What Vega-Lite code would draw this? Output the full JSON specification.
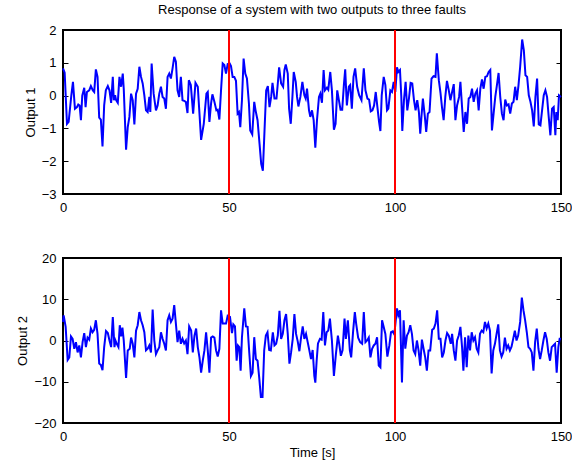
{
  "$schema": "https://vega.github.io/schema/vega-lite/v6.json",
  "padding": {"left": 15, "top": 3, "right": 0, "bottom": 4},
  "datasets": {
    "out1": [
      {"t":0,"v":0.83},{"t":0.5,"v":0.7},{"t":1.2,"v":-0.86},{"t":1.7,"v":-0.8},{"t":2.5,"v":0.0},{"t":3.0,"v":0.42},{"t":3.6,"v":-0.4},{"t":4.2,"v":-0.35},{"t":4.6,"v":-0.27},{"t":5.0,"v":-0.3},{"t":5.4,"v":-0.75},{"t":5.8,"v":0.0},{"t":6.4,"v":0.24},{"t":6.8,"v":-0.35},{"t":7.2,"v":0.11},{"t":7.9,"v":0.16},{"t":8.4,"v":0.29},{"t":9.0,"v":0.16},{"t":9.4,"v":0.11},{"t":9.9,"v":0.8},{"t":10.4,"v":0.57},{"t":10.9,"v":-0.67},{"t":11.4,"v":-0.73},{"t":11.9,"v":-1.55},{"t":12.4,"v":-0.3},{"t":12.9,"v":0.16},{"t":13.5,"v":0.29},{"t":14.0,"v":0.16},{"t":14.5,"v":-0.22},{"t":15.0,"v":0.57},{"t":15.3,"v":-0.14},{"t":15.7,"v":0.01},{"t":16.0,"v":-0.14},{"t":16.5,"v":-0.22},{"t":17.0,"v":0.57},{"t":17.5,"v":0.27},{"t":18.0,"v":0.67},{"t":18.3,"v":0.21},{"t":19.0,"v":-1.65},{"t":19.5,"v":-0.96},{"t":20.0,"v":-0.65},{"t":20.5,"v":0.06},{"t":21.0,"v":-0.14},{"t":21.5,"v":-0.88},{"t":22.0,"v":0.06},{"t":22.5,"v":0.21},{"t":23.0,"v":0.88},{"t":23.5,"v":0.57},{"t":24.0,"v":0.37},{"t":24.5,"v":0.01},{"t":25.0,"v":-0.45},{"t":25.5,"v":-0.5},{"t":26.0,"v":-0.04},{"t":26.3,"v":-0.5},{"t":26.7,"v":0.98},{"t":27.3,"v":0.06},{"t":28.0,"v":-0.45},{"t":28.5,"v":-0.3},{"t":29.0,"v":0.06},{"t":29.5,"v":0.27},{"t":30.0,"v":-0.04},{"t":30.5,"v":-0.09},{"t":31.0,"v":-0.4},{"t":31.5,"v":0.57},{"t":32.0,"v":0.67},{"t":32.5,"v":0.52},{"t":33.0,"v":0.83},{"t":33.5,"v":1.18},{"t":34.0,"v":1.03},{"t":34.5,"v":0.16},{"t":35.0,"v":-0.04},{"t":35.5,"v":0.57},{"t":36.0,"v":-0.14},{"t":36.5,"v":-0.16},{"t":37.0,"v":-0.19},{"t":37.5,"v":-0.53},{"t":37.9,"v":0.47},{"t":38.5,"v":0.32},{"t":39.2,"v":-0.55},{"t":39.9,"v":0.39},{"t":40.6,"v":0.27},{"t":41.6,"v":-1.35},{"t":42.4,"v":-0.86},{"t":43.2,"v":0.06},{"t":43.6,"v":0.11},{"t":44.1,"v":-0.8},{"t":44.6,"v":-0.24},{"t":45.0,"v":0.04},{"t":45.6,"v":-0.19},{"t":46.2,"v":-0.45},{"t":46.6,"v":-0.43},{"t":47.1,"v":-0.73},{"t":47.6,"v":0.16},{"t":48.1,"v":0.98},{"t":48.6,"v":0.93},{"t":49.1,"v":0.67},{"t":49.6,"v":0.96},{"t":50.2,"v":0.98},{"t":50.6,"v":0.9},{"t":51.1,"v":0.57},{"t":51.6,"v":0.57},{"t":52.1,"v":0.45},{"t":52.6,"v":-0.55},{"t":53.0,"v":-0.5},{"t":53.4,"v":-0.96},{"t":53.9,"v":-0.14},{"t":54.4,"v":1.13},{"t":54.9,"v":0.67},{"t":55.4,"v":0.52},{"t":56.0,"v":-0.24},{"t":56.4,"v":-1.06},{"t":57.0,"v":-1.18},{"t":57.6,"v":-0.19},{"t":58.0,"v":-0.45},{"t":58.6,"v":-0.75},{"t":59.2,"v":-1.47},{"t":59.7,"v":-2.08},{"t":60.2,"v":-2.29},{"t":60.7,"v":-1.06},{"t":61.2,"v":0.16},{"t":61.7,"v":0.29},{"t":62.2,"v":-0.35},{"t":62.7,"v":-0.04},{"t":63.1,"v":0.39},{"t":63.7,"v":-0.09},{"t":64.3,"v":-0.09},{"t":64.7,"v":0.37},{"t":65.1,"v":0.86},{"t":65.7,"v":0.37},{"t":66.3,"v":0.27},{"t":66.7,"v":0.78},{"t":67.1,"v":0.95},{"t":67.7,"v":0.67},{"t":68.1,"v":-0.4},{"t":68.6,"v":-0.86},{"t":69.1,"v":-0.04},{"t":69.5,"v":0.72},{"t":70.1,"v":0.42},{"t":70.5,"v":-0.04},{"t":70.9,"v":-0.33},{"t":71.5,"v":-0.04},{"t":72.1,"v":0.42},{"t":72.7,"v":0.01},{"t":73.1,"v":-0.09},{"t":73.5,"v":0.21},{"t":74.1,"v":-0.45},{"t":74.5,"v":-0.65},{"t":75.0,"v":-0.45},{"t":75.5,"v":-0.75},{"t":76.0,"v":-1.59},{"t":76.5,"v":-0.75},{"t":77.1,"v":-0.04},{"t":77.5,"v":0.06},{"t":78.0,"v":-0.22},{"t":78.5,"v":0.78},{"t":78.9,"v":0.16},{"t":79.5,"v":0.24},{"t":79.9,"v":0.18},{"t":80.5,"v":0.72},{"t":81.0,"v":0.16},{"t":81.6,"v":-1.04},{"t":82.1,"v":-0.86},{"t":82.6,"v":0.16},{"t":83.1,"v":-0.14},{"t":83.6,"v":-0.43},{"t":84.1,"v":-0.43},{"t":84.6,"v":0.32},{"t":85.0,"v":0.8},{"t":85.5,"v":-0.3},{"t":86.1,"v":0.27},{"t":86.5,"v":0.32},{"t":87.0,"v":-0.4},{"t":87.5,"v":0.57},{"t":88.0,"v":0.83},{"t":88.6,"v":0.27},{"t":89.2,"v":0.01},{"t":89.9,"v":-0.14},{"t":90.6,"v":0.83},{"t":91.1,"v":0.16},{"t":91.7,"v":-0.09},{"t":92.2,"v":-0.12},{"t":92.7,"v":-0.48},{"t":93.2,"v":-0.45},{"t":93.7,"v":-0.3},{"t":94.2,"v":0.11},{"t":94.7,"v":-0.35},{"t":95.2,"v":-0.8},{"t":95.6,"v":-1.08},{"t":96.0,"v":0.01},{"t":96.6,"v":0.57},{"t":97.1,"v":0.32},{"t":97.6,"v":-0.45},{"t":98.0,"v":-0.4},{"t":98.6,"v":0.16},{"t":99.1,"v":0.11},{"t":99.6,"v":0.42},{"t":100.1,"v":0.11},{"t":100.6,"v":0.86},{"t":101.0,"v":0.72},{"t":101.5,"v":0.78},{"t":101.9,"v":-0.04},{"t":102.2,"v":-1.08},{"t":102.7,"v":-0.14},{"t":103.2,"v":0.42},{"t":103.7,"v":-0.45},{"t":104.2,"v":-0.09},{"t":104.7,"v":0.39},{"t":105.2,"v":0.37},{"t":105.7,"v":-0.12},{"t":106.2,"v":-0.45},{"t":106.7,"v":-0.14},{"t":107.2,"v":-0.5},{"t":107.6,"v":-1.16},{"t":108.0,"v":-0.6},{"t":108.4,"v":-0.09},{"t":109.0,"v":-0.65},{"t":109.4,"v":-1.11},{"t":109.9,"v":-0.55},{"t":110.4,"v":-0.5},{"t":111.0,"v":0.52},{"t":111.6,"v":0.59},{"t":112.2,"v":0.57},{"t":112.6,"v":1.29},{"t":113.2,"v":0.47},{"t":113.7,"v":0.08},{"t":114.15,"v":-0.35},{"t":114.65,"v":-0.75},{"t":115.15,"v":-0.04},{"t":115.65,"v":0.45},{"t":116.2,"v":0.16},{"t":116.7,"v":-0.14},{"t":117.2,"v":0.11},{"t":117.7,"v":0.35},{"t":118.2,"v":-0.75},{"t":118.7,"v":-0.3},{"t":119.3,"v":-0.04},{"t":119.7,"v":0.42},{"t":120.2,"v":-0.35},{"t":120.7,"v":-1.11},{"t":121.2,"v":-0.5},{"t":121.7,"v":-0.86},{"t":122.2,"v":-0.09},{"t":122.7,"v":-0.04},{"t":123.2,"v":0.21},{"t":123.7,"v":-0.19},{"t":124.2,"v":0.06},{"t":124.7,"v":0.16},{"t":125.2,"v":-0.45},{"t":125.7,"v":0.21},{"t":126.2,"v":0.49},{"t":126.7,"v":0.21},{"t":127.2,"v":0.57},{"t":127.7,"v":0.59},{"t":128.2,"v":0.72},{"t":128.7,"v":0.78},{"t":129.2,"v":-1.06},{"t":129.7,"v":-0.55},{"t":130.2,"v":-0.04},{"t":130.7,"v":0.32},{"t":131.2,"v":0.69},{"t":131.7,"v":-0.04},{"t":132.2,"v":-0.55},{"t":132.7,"v":-0.75},{"t":133.2,"v":-0.12},{"t":133.7,"v":-0.3},{"t":134.2,"v":-0.27},{"t":134.7,"v":-0.55},{"t":135.2,"v":-0.24},{"t":135.7,"v":-0.19},{"t":136.2,"v":0.27},{"t":136.7,"v":-0.14},{"t":137.2,"v":0.32},{"t":137.7,"v":0.88},{"t":138.3,"v":1.71},{"t":138.8,"v":1.39},{"t":139.3,"v":0.62},{"t":139.8,"v":0.57},{"t":140.3,"v":0.01},{"t":140.8,"v":-0.19},{"t":141.3,"v":-0.45},{"t":141.8,"v":-0.94},{"t":142.3,"v":-0.04},{"t":142.8,"v":0.52},{"t":143.3,"v":-0.88},{"t":143.8,"v":-0.91},{"t":144.3,"v":-0.45},{"t":144.8,"v":0.01},{"t":145.3,"v":0.16},{"t":145.8,"v":-0.04},{"t":146.3,"v":-0.65},{"t":146.8,"v":-1.21},{"t":147.3,"v":-0.4},{"t":147.8,"v":-0.35},{"t":148.3,"v":-1.21},{"t":148.6,"v":-0.5},{"t":149.0,"v":-0.75},{"t":149.4,"v":0.01},{"t":150,"v":-0.04}
    ],
    "out2": [
      {"t":0,"v":4.5},{"t":0.2,"v":6.1},{"t":0.8,"v":3.3},{"t":1.4,"v":-4.7},{"t":1.9,"v":-4.1},{"t":2.4,"v":1.0},{"t":2.9,"v":0.4},{"t":3.4,"v":-2.0},{"t":3.9,"v":-0.4},{"t":4.4,"v":-2.9},{"t":4.9,"v":-1.2},{"t":5.4,"v":-4.1},{"t":5.9,"v":-0.4},{"t":6.4,"v":1.8},{"t":6.9,"v":-1.6},{"t":7.4,"v":0.7},{"t":7.9,"v":0.2},{"t":8.4,"v":2.9},{"t":8.9,"v":2.0},{"t":9.4,"v":2.6},{"t":9.9,"v":4.9},{"t":10.4,"v":1.6},{"t":10.9,"v":-5.6},{"t":11.4,"v":-5.9},{"t":11.9,"v":-7.2},{"t":12.4,"v":-1.6},{"t":12.95,"v":2.3},{"t":13.5,"v":1.8},{"t":14.0,"v":0},{"t":14.5,"v":-1.6},{"t":15.0,"v":5.7},{"t":15.5,"v":-1.6},{"t":15.8,"v":0},{"t":16.2,"v":-0.8},{"t":16.7,"v":-1.6},{"t":17.1,"v":3.7},{"t":17.5,"v":1.0},{"t":17.9,"v":3.1},{"t":18.3,"v":0},{"t":19.0,"v":-9.1},{"t":19.5,"v":-2.4},{"t":20.1,"v":-2.0},{"t":20.5,"v":0.7},{"t":21.0,"v":-0.8},{"t":21.5,"v":-4.1},{"t":22.0,"v":2.4},{"t":22.5,"v":3.7},{"t":23.0,"v":6.9},{"t":23.5,"v":4.9},{"t":24.0,"v":3.7},{"t":24.5,"v":2.0},{"t":25.0,"v":-2.4},{"t":25.5,"v":-2.0},{"t":26.0,"v":-1.2},{"t":26.5,"v":-2.9},{"t":27.0,"v":7.5},{"t":27.5,"v":0},{"t":28.0,"v":-3.3},{"t":28.5,"v":-2.4},{"t":29.0,"v":-1.6},{"t":29.5,"v":2.0},{"t":30.0,"v":0.4},{"t":30.5,"v":-0.8},{"t":31.0,"v":-2.4},{"t":31.5,"v":4.9},{"t":32.0,"v":6.1},{"t":32.5,"v":4.5},{"t":33.0,"v":5.3},{"t":33.5,"v":8.6},{"t":34.0,"v":4.1},{"t":34.5,"v":-0.4},{"t":35.0,"v":2.4},{"t":35.5,"v":-0.8},{"t":36.0,"v":0.4},{"t":36.5,"v":-0.7},{"t":37.0,"v":0},{"t":37.5,"v":-3.3},{"t":38.0,"v":3.4},{"t":38.6,"v":2.4},{"t":39.1,"v":-2.9},{"t":39.6,"v":1.2},{"t":40.1,"v":2.9},{"t":40.6,"v":-1.6},{"t":41.1,"v":-4.1},{"t":41.6,"v":-7.8},{"t":42.1,"v":-4.9},{"t":42.6,"v":-2.4},{"t":43.1,"v":2.0},{"t":43.6,"v":-2.4},{"t":44.1,"v":-7.8},{"t":44.6,"v":0.7},{"t":45.1,"v":1.0},{"t":45.6,"v":0.7},{"t":46.1,"v":-2.4},{"t":46.6,"v":-3.9},{"t":47.1,"v":-2.0},{"t":47.6,"v":7.3},{"t":48.1,"v":4.1},{"t":48.6,"v":4.1},{"t":49.1,"v":4.1},{"t":49.6,"v":6.0},{"t":50.3,"v":5.7},{"t":50.9,"v":1.8},{"t":51.3,"v":3.9},{"t":51.8,"v":3.4},{"t":52.3,"v":-4.9},{"t":52.7,"v":-1.2},{"t":53.1,"v":-1.6},{"t":53.5,"v":-7.3},{"t":53.9,"v":0.8},{"t":54.6,"v":7.8},{"t":55.1,"v":3.4},{"t":55.6,"v":3.3},{"t":56.1,"v":-2.9},{"t":56.6,"v":-8.6},{"t":57.1,"v":-7.8},{"t":57.6,"v":0.8},{"t":58.1,"v":-4.5},{"t":58.6,"v":-4.9},{"t":59.1,"v":-9.0},{"t":59.6,"v":-13.7},{"t":60.1,"v":-13.7},{"t":60.6,"v":-2.4},{"t":61.1,"v":1.2},{"t":61.6,"v":2.0},{"t":62.1,"v":-2.3},{"t":62.6,"v":-2.4},{"t":63.2,"v":2.0},{"t":63.7,"v":-1.2},{"t":64.2,"v":-0.8},{"t":64.7,"v":1.2},{"t":65.2,"v":7.2},{"t":65.7,"v":0.4},{"t":66.2,"v":1.6},{"t":66.7,"v":4.9},{"t":67.2,"v":6.4},{"t":67.7,"v":1.6},{"t":68.2,"v":-5.6},{"t":68.7,"v":-2.9},{"t":69.2,"v":0.4},{"t":69.7,"v":6.4},{"t":70.2,"v":1.6},{"t":70.7,"v":-0.2},{"t":71.2,"v":-2.6},{"t":71.7,"v":0.7},{"t":72.2,"v":3.4},{"t":72.7,"v":0.4},{"t":73.2,"v":1.6},{"t":73.7,"v":-0.4},{"t":74.2,"v":-2.4},{"t":74.7,"v":-4.5},{"t":75.2,"v":-2.3},{"t":75.7,"v":-8.6},{"t":76.0,"v":-10.2},{"t":76.4,"v":-4.9},{"t":76.8,"v":-0.7},{"t":77.4,"v":0.4},{"t":77.9,"v":0.2},{"t":78.4,"v":6.9},{"t":78.9,"v":-1.2},{"t":79.4,"v":2.0},{"t":79.9,"v":2.4},{"t":80.4,"v":5.3},{"t":81.0,"v":0},{"t":81.6,"v":-8.6},{"t":82.2,"v":-3.3},{"t":82.8,"v":1.2},{"t":83.2,"v":-0.8},{"t":83.7,"v":-3.7},{"t":84.2,"v":-2.4},{"t":84.8,"v":5.3},{"t":85.2,"v":0.4},{"t":85.8,"v":4.9},{"t":86.4,"v":-2.4},{"t":86.8,"v":-4.1},{"t":87.4,"v":2.4},{"t":87.9,"v":6.9},{"t":88.3,"v":4.1},{"t":88.9,"v":0.7},{"t":89.5,"v":-0.4},{"t":90.1,"v":-0.8},{"t":90.6,"v":6.9},{"t":91.1,"v":-0.4},{"t":91.6,"v":0},{"t":92.1,"v":0.7},{"t":92.6,"v":-4.1},{"t":93.1,"v":-2.0},{"t":93.6,"v":-1.2},{"t":94.1,"v":-0.8},{"t":94.6,"v":0.8},{"t":95.1,"v":-6.1},{"t":95.6,"v":-6.5},{"t":96.1,"v":4.9},{"t":96.6,"v":3.3},{"t":97.1,"v":1.6},{"t":97.7,"v":-3.9},{"t":98.3,"v":-1.2},{"t":98.8,"v":2.0},{"t":99.3,"v":2.2},{"t":99.8,"v":1.5},{"t":100.6,"v":7.8},{"t":101.0,"v":6.1},{"t":101.5,"v":7.3},{"t":102.1,"v":-10.2},{"t":102.6,"v":4.9},{"t":103.1,"v":-2.0},{"t":103.6,"v":1.2},{"t":104.1,"v":2.0},{"t":104.6,"v":3.7},{"t":105.1,"v":1.6},{"t":105.6,"v":-2.4},{"t":106.1,"v":-3.3},{"t":106.6,"v":0},{"t":107.1,"v":-2.4},{"t":107.6,"v":-6.1},{"t":108.1,"v":0.2},{"t":108.6,"v":-2.0},{"t":109.1,"v":-4.1},{"t":109.6,"v":-7.3},{"t":110.1,"v":-2.4},{"t":110.6,"v":-2.4},{"t":111.2,"v":2.6},{"t":111.7,"v":2.9},{"t":112.2,"v":4.1},{"t":112.7,"v":7.3},{"t":113.2,"v":0.4},{"t":113.7,"v":0.4},{"t":114.2,"v":-4.1},{"t":114.7,"v":-2.9},{"t":115.2,"v":0},{"t":115.7,"v":1.8},{"t":116.2,"v":1.2},{"t":116.8,"v":-0.8},{"t":117.2,"v":1.6},{"t":117.7,"v":-2.4},{"t":118.2,"v":-4.9},{"t":118.7,"v":0},{"t":119.2,"v":1.2},{"t":119.7,"v":3.3},{"t":120.2,"v":-1.6},{"t":120.6,"v":-7.3},{"t":121.1,"v":0.8},{"t":121.6,"v":-6.5},{"t":122.1,"v":1.2},{"t":122.6,"v":-2.4},{"t":123.1,"v":2.0},{"t":123.6,"v":0},{"t":124.1,"v":0.8},{"t":124.6,"v":-2.0},{"t":125.1,"v":-2.9},{"t":125.6,"v":1.6},{"t":126.1,"v":2.4},{"t":126.6,"v":2.0},{"t":127.1,"v":4.5},{"t":127.6,"v":2.9},{"t":128.1,"v":4.1},{"t":128.6,"v":2.4},{"t":129.1,"v":-8.0},{"t":129.6,"v":-2.4},{"t":130.1,"v":-0.8},{"t":130.6,"v":1.6},{"t":131.1,"v":3.9},{"t":131.6,"v":-2.4},{"t":132.1,"v":-3.9},{"t":132.6,"v":-2.9},{"t":133.1,"v":0.7},{"t":133.6,"v":-2.0},{"t":134.1,"v":-1.2},{"t":134.6,"v":-2.4},{"t":135.1,"v":-1.5},{"t":135.6,"v":0.4},{"t":136.1,"v":2.4},{"t":136.6,"v":0},{"t":137.1,"v":1.2},{"t":137.7,"v":4.5},{"t":138.2,"v":10.4},{"t":138.7,"v":7.3},{"t":139.2,"v":4.9},{"t":139.7,"v":2.0},{"t":140.2,"v":-1.6},{"t":140.7,"v":-2.0},{"t":141.2,"v":-2.9},{"t":141.7,"v":-7.3},{"t":142.2,"v":-0.4},{"t":142.7,"v":2.9},{"t":143.2,"v":-2.0},{"t":143.7,"v":-4.5},{"t":144.2,"v":-2.4},{"t":144.7,"v":0},{"t":145.2,"v":2.0},{"t":145.7,"v":0.4},{"t":146.2,"v":-2.9},{"t":146.7,"v":-4.9},{"t":147.2,"v":-1.6},{"t":147.7,"v":-1.2},{"t":148.2,"v":-0.8},{"t":148.7,"v":-7.8},{"t":149.2,"v":-1.6},{"t":149.6,"v":0.4},{"t":150,"v":0.4}
    ],
    "faults": [{"t": 50}, {"t": 100}]
  },
  "vconcat": [
    {
      "width": 498,
      "height": 164,
      "title": {"text": "Response of a system with two outputs to three faults", "offset": 7},
      "layer": [
        {
          "data": {"name": "out1"},
          "mark": {"type": "line", "color": "#0000ff", "strokeWidth": 2},
          "encoding": {
            "x": {"field": "t", "type": "quantitative", "scale": {"domain": [0, 150], "nice": false}, "axis": {"values": [0, 50, 100, 150], "title": null}},
            "y": {"field": "v", "type": "quantitative", "scale": {"domain": [-3, 2], "nice": false}, "axis": {"values": [-3, -2, -1, 0, 1, 2], "title": "Output 1"}}
          }
        },
        {
          "data": {"name": "out1"},
          "mark": {"type": "line", "opacity": 0},
          "encoding": {
            "x": {"field": "t", "type": "quantitative", "axis": {"orient": "top", "values": [0, 50, 100, 150], "labels": false, "title": null}},
            "y": {"field": "v", "type": "quantitative", "axis": {"orient": "right", "values": [-3, -2, -1, 0, 1, 2], "labels": false, "title": null}}
          }
        },
        {
          "data": {"name": "faults"},
          "mark": {"type": "rule", "color": "#ff0000", "strokeWidth": 2},
          "encoding": {"x": {"field": "t", "type": "quantitative", "axis": null}}
        }
      ],
      "resolve": {"axis": {"x": "independent", "y": "independent"}}
    },
    {
      "width": 498,
      "height": 165,
      "layer": [
        {
          "data": {"name": "out2"},
          "mark": {"type": "line", "color": "#0000ff", "strokeWidth": 2},
          "encoding": {
            "x": {"field": "t", "type": "quantitative", "scale": {"domain": [0, 150], "nice": false}, "axis": {"values": [0, 50, 100, 150], "title": "Time [s]"}},
            "y": {"field": "v", "type": "quantitative", "scale": {"domain": [-20, 20], "nice": false}, "axis": {"values": [-20, -10, 0, 10, 20], "title": "Output 2"}}
          }
        },
        {
          "data": {"name": "out2"},
          "mark": {"type": "line", "opacity": 0},
          "encoding": {
            "x": {"field": "t", "type": "quantitative", "axis": {"orient": "top", "values": [0, 50, 100, 150], "labels": false, "title": null}},
            "y": {"field": "v", "type": "quantitative", "axis": {"orient": "right", "values": [-20, -10, 0, 10, 20], "labels": false, "title": null}}
          }
        },
        {
          "data": {"name": "faults"},
          "mark": {"type": "rule", "color": "#ff0000", "strokeWidth": 2},
          "encoding": {"x": {"field": "t", "type": "quantitative", "axis": null}}
        }
      ],
      "resolve": {"axis": {"x": "independent", "y": "independent"}}
    }
  ],
  "spacing": 64,
  "bounds": "flush",
  "config": {
    "view": {"stroke": "black", "strokeWidth": 2},
    "axis": {
      "grid": false, "domain": false, "tickColor": "black", "tickSize": -5, "tickWidth": 1,
      "labelFont": "Liberation Sans", "labelFontSize": 13, "labelColor": "black", "labelPadding": 12, "labelFlush": false,
      "titleFont": "Liberation Sans", "titleFontSize": 13, "titleFontWeight": "normal", "titleColor": "black", "titlePadding": 4
    },
    "axisX": {"labelPadding": 12, "titlePadding": 3},
    "title": {"font": "Liberation Sans", "fontSize": 13, "fontWeight": "normal", "color": "black"}
  }
}
